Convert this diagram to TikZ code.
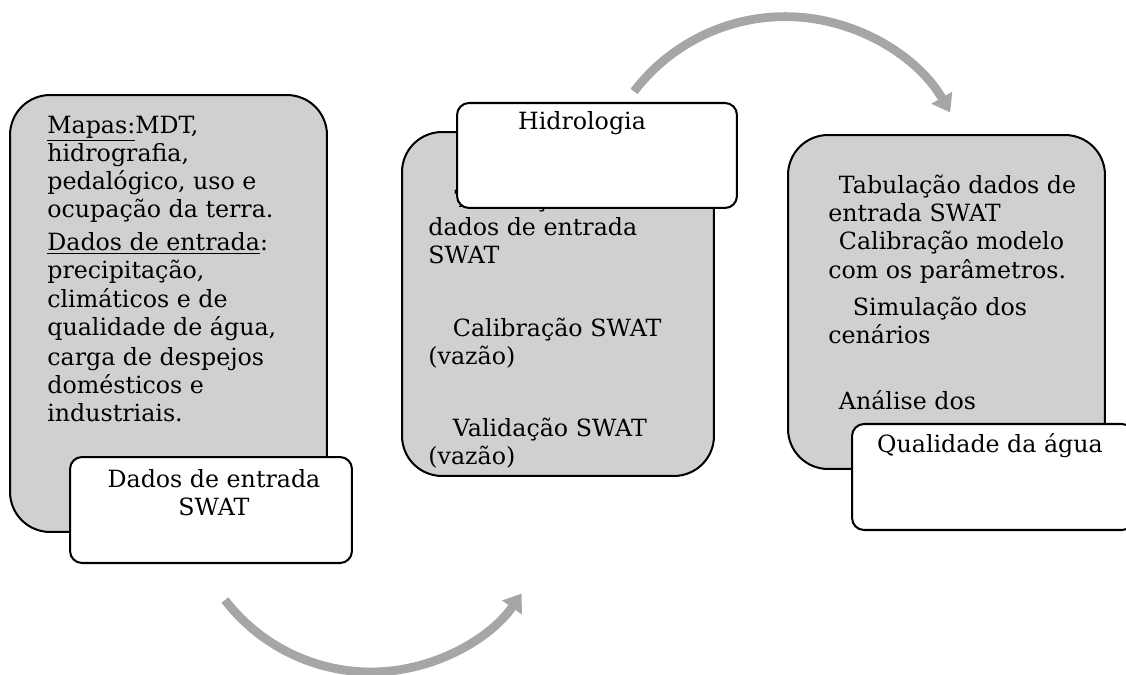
\documentclass[tikz,border=0pt]{standalone}
\usepackage{fontspec}
\setmainfont{DejaVu Serif}
\usetikzlibrary{arrows.meta}

\definecolor{panelgray}{RGB}{208,208,208}
\definecolor{arrowgray}{RGB}{166,166,166}

\tikzset{
	panel/.style={draw=black, fill=panelgray, line width=1.15pt, rounded corners=0.8cm, inner sep=0pt, outer sep=0pt},
	tag/.style={draw=black, fill=white, line width=1.15pt, rounded corners=0.24cm, inner sep=0pt, outer sep=0pt},
	body/.style={inner sep=0pt, align=left, anchor=north west, font=\fontsize{13.5}{16}\selectfont},
	caption/.style={inner sep=0pt, align=center, font=\fontsize{13.5}{16}\selectfont},
	turnarrow/.style={draw=arrowgray, line width=5pt, -{Triangle[length=0.34cm, width=0.46cm]}}
}

\begin{document}
\begin{tikzpicture}[x=0.02cm, y=0.02cm]

	\useasboundingbox (0,0) rectangle (1126,-675);

	% gray panels with their texts
	\node[panel, minimum width=6.34cm, minimum height=8.74cm] (maps) at (168.5,-313.5) {};
	\node[body] (mapstext) at (47,-115.5) {\underline{Mapas:}MDT,\\
		hidrografia,\\
		pedalógico, uso e\\
		ocupação da terra.\\[3pt]
		\underline{Dados de entrada}:\\
		precipitação,\\
		climáticos e de\\
		qualidade de água,\\[1pt]
		carga de despejos\\
		domésticos e\\
		industriais.};

	\node[panel, minimum width=6.24cm, minimum height=6.88cm] (hydro) at (558,-304) {};
	\node[body] (hydrotext) at (428,-189) {\hspace{15pt}Tabulação\\
		dados de entrada\\
		SWAT\\[25pt]
		\hspace{14pt}Calibração SWAT\\
		(vazão)\\[25pt]
		\hspace{14pt}Validação SWAT\\
		(vazão)};

	\node[panel, minimum width=6.34cm, minimum height=6.68cm] (quality) at (946.5,-302) {};
	\node[body] (qualitytext) at (828,-175) {\hspace{6pt}Tabulação dados de\\
		entrada SWAT\\
		\hspace{6pt}Calibração modelo\\
		com os parâmetros.\\[5.5pt]
		\hspace{14pt}Simulação dos\\
		cenários\\[21pt]
		\hspace{6pt}Análise dos};

	% white tags on top
	\node[tag, minimum width=5.64cm, minimum height=2.12cm] (inputtag) at (211,-510) {};
	\node[caption, anchor=north] (inputlabel) at (214,-469) {Dados de entrada\\SWAT};

	\node[tag, minimum width=5.6cm, minimum height=2.1cm] (hydrotag) at (597,-155.5) {};
	\node[caption, anchor=base] (hydrolabel) at (582,-130) {Hidrologia};

	\node[tag, minimum width=5.64cm, minimum height=2.12cm] (qualitytag) at (993,-477) {};
	\node[caption, anchor=base] (qualitylabel) at (990,-453) {Qualidade da água};

	% cycle arrows
	\coordinate (lowstart) at (225,-600);
	\coordinate (highstart) at (634,-91.5);
	\draw[turnarrow] (lowstart) arc[start angle=217.5, end angle=325, radius=184];
	\draw[turnarrow] (highstart) arc[start angle=142.7, end angle=29.7, radius=190];

\end{tikzpicture}
\end{document}
